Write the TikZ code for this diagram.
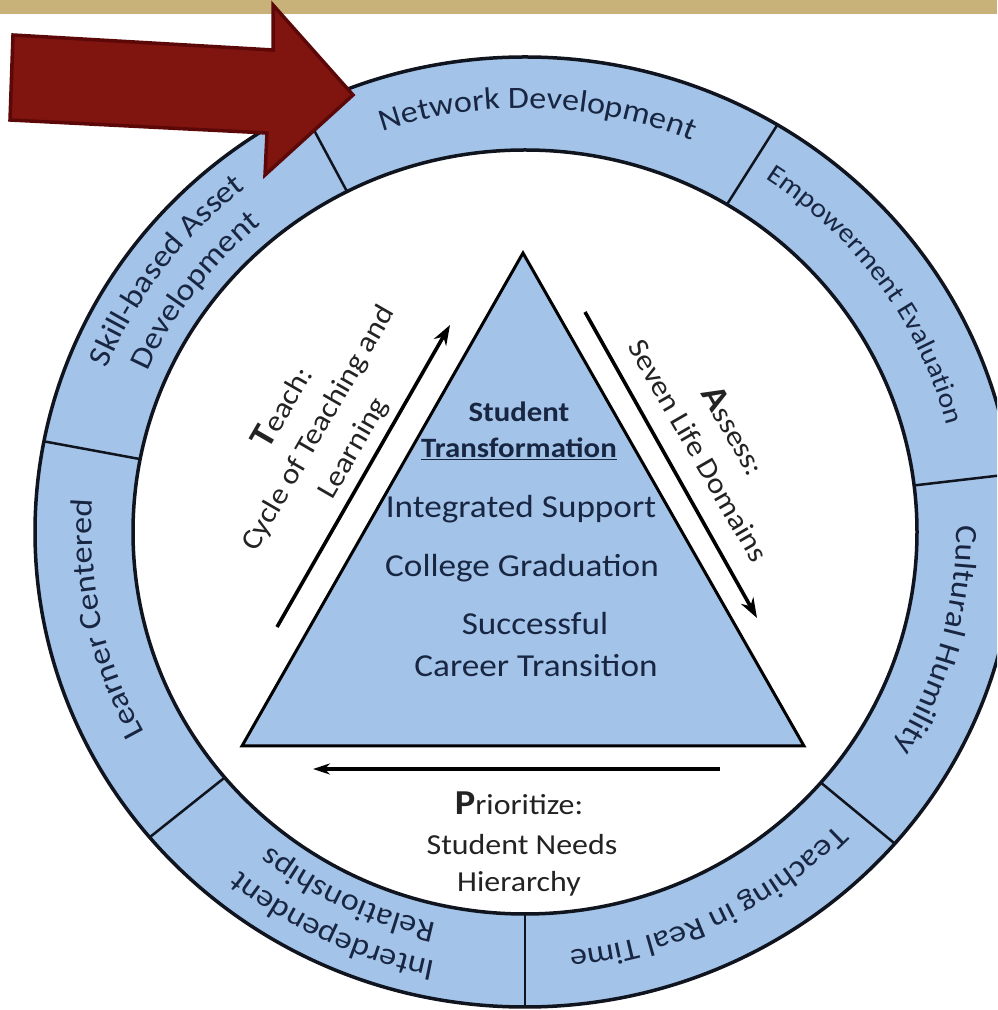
\documentclass[tikz,border=0pt]{standalone}
\usepackage{fontspec}
\usetikzlibrary{decorations.text,arrows.meta,calc}
\newfontfamily\cf[FakeStretch=1.1]{Carlito}
\definecolor{ringblue}{RGB}{163,195,233}
\definecolor{navytext}{RGB}{24,38,66}
\definecolor{darkline}{RGB}{15,20,30}
\definecolor{arrowred}{RGB}{128,20,14}
\definecolor{arrowedge}{RGB}{92,8,8}
\definecolor{tanband}{RGB}{200,178,122}
\definecolor{labelgray}{RGB}{35,35,35}
\newcommand\ringlabel[4][31]{%
  \pgfmathsetmacro\rxx{392+#3*98}%
  \pgfmathsetmacro\ryy{382+#3*93}%
  \pgfmathsetmacro\aS{#2+30}%
  \pgfmathsetmacro\aE{#2-30}%
  \path[decorate,decoration={text along path,text align=center,text color=navytext,text={|\cf\fontsize{#1}{36}\selectfont|#4}}]
    ($(C)+(\aS:\rxx pt and \ryy pt)$) arc[start angle=\aS,end angle=\aE,x radius=\rxx pt,y radius=\ryy pt];}
\begin{document}
\begin{tikzpicture}[x=1pt,y=1pt,
  ringline/.style={draw=darkline,line width=3.5pt},
  divider/.style={draw=darkline,line width=2.5pt},
  tritext/.style={text=navytext,inner sep=0pt,anchor=base},
  lbltext/.style={text=labelgray,inner sep=0pt},
  flowarrow/.style={draw=black,line width=3.6pt,-{Stealth[length=20pt,width=14pt]}},
  prioarrow/.style={draw=black,line width=3.4pt,-{Stealth[length=17pt,width=11pt]}}]
\useasboundingbox (0,0) rectangle (997,1010);
\clip (0,0) rectangle (997,1010);
\fill[white] (0,0) rectangle (997,1010);
\fill[tanband] (0,996) rectangle (997,1010);
\coordinate (C) at (525,478);
% ring
\fill[ringblue,even odd rule] (C) ellipse[x radius=490,y radius=475] (C) ellipse[x radius=392,y radius=382];
\draw[ringline] (C) ellipse[x radius=490,y radius=475];
\draw[ringline] (C) ellipse[x radius=392,y radius=382];
\foreach \a in {117,59,7,-41,-90,-140,169}
  \draw[divider] ($(C)+(\a:392pt and 382pt)$) -- ($(C)+(\a:490pt and 475pt)$);
% ring labels
\ringlabel{88.3}{0.45}{Network Development}
\ringlabel[27]{35.5}{0.45}{Empowerment Evaluation}
\ringlabel{-15}{0.40}{Cultural Humility}
\ringlabel{-64}{0.42}{Teaching in Real Time}
\ringlabel{-115.5}{0.60}{Interdependent}
\ringlabel{-115.5}{0.20}{Relationships}
\ringlabel{192}{0.42}{Learner Centered}
\ringlabel{143.3}{0.60}{Skill-based Asset}
\ringlabel{143.3}{0.20}{Development}
% triangle
\coordinate (apex) at (523,757);
\coordinate (bl) at (242,264);
\coordinate (br) at (804,264);
\draw[fill=ringblue,draw=black,line width=3pt,line join=miter] (apex) -- (bl) -- (br) -- cycle;
\node[tritext,font=\cf\bfseries\fontsize{28}{34}\selectfont] (st) at (519,588) {Student};
\node[tritext,font=\cf\bfseries\fontsize{28}{34}\selectfont] (tr) at (519,552) {\underline{Transformation}};
\node[tritext,font=\cf\fontsize{32}{38}\selectfont] (is) at (521,492) {Integrated Support};
\node[tritext,font=\cf\fontsize{32}{38}\selectfont] (cg) at (522,433) {College Graduation};
\node[tritext,font=\cf\fontsize{32}{38}\selectfont] (sc) at (535,375) {Successful};
\node[tritext,font=\cf\fontsize{32}{38}\selectfont] (ct) at (536,333) {Career Transition};
% side arrows
\coordinate (teachS) at (277,383);
\coordinate (teachE) at (450,685);
\coordinate (assessS) at (585,698);
\coordinate (assessE) at (757,392);
\coordinate (prioS) at (720,241);
\coordinate (prioE) at (313,241);
\draw[flowarrow] (teachS) -- (teachE);
\draw[flowarrow] (assessS) -- (assessE);
\draw[prioarrow] (prioS) -- (prioE);
\node[lbltext,rotate=60,align=center,font=\cf\fontsize{29}{40}\selectfont] (teach) at (318,582)
  {{\bfseries\fontsize{35}{40}\selectfont T}each:\\Cycle of Teaching and\\Learning};
\node[lbltext,rotate=-60,align=center,font=\cf\fontsize{29}{40}\selectfont] (assess) at (717,570)
  {{\bfseries\fontsize{35}{40}\selectfont A}ssess:\\Seven Life Domains};
\node[lbltext,anchor=base,font=\cf\fontsize{29}{34}\selectfont] (prio) at (519,195)
  {{\bfseries\fontsize{35}{40}\selectfont P}rioritize:};
\node[lbltext,anchor=base,font=\cf\fontsize{29}{34}\selectfont] (needs) at (522,155) {Student Needs};
\node[lbltext,anchor=base,font=\cf\fontsize{29}{34}\selectfont] (hier) at (519,118) {Hierarchy};
% red arrow
\draw[fill=arrowred,draw=arrowedge,line width=3.5pt,line join=miter]
  (13,975) -- (273,960) -- (273,1005) -- (353,915) -- (265,835) -- (267,877) -- (10,890) -- cycle;
\end{tikzpicture}
\end{document}
